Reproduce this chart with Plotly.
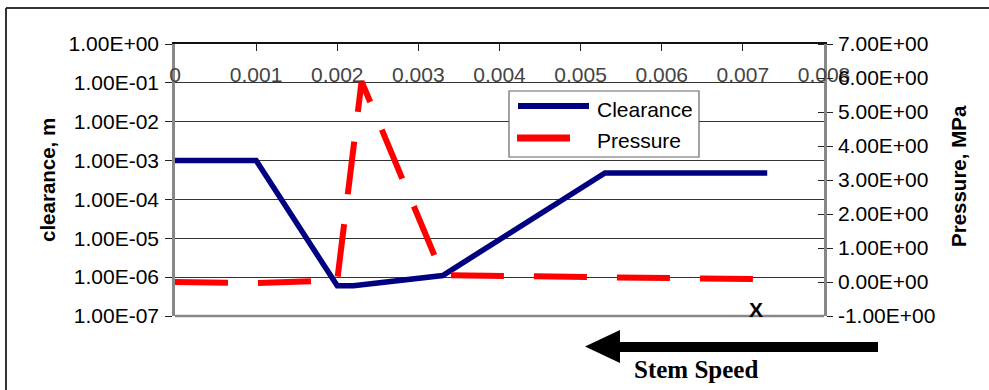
import plotly.graph_objects as go

# ---- data -------------------------------------------------------------
clear_x = [0.0, 0.001, 0.002, 0.0022, 0.0033, 0.0053, 0.0073]
clear_y = [1.0e-3, 1.0e-3, 6.0e-7, 6.0e-7, 1.1e-6, 4.8e-4, 4.8e-4]

press_x = [0.0, 0.001, 0.002, 0.0023, 0.0033, 0.0043, 0.0053, 0.0063, 0.0073]
press_y = [0.0, -0.03, 0.05, 5.9, 0.2, 0.16, 0.13, 0.10, 0.08]

x_ticks = [0, 0.001, 0.002, 0.003, 0.004, 0.005, 0.006, 0.007, 0.008]
x_tick_labels = ["0", "0.001", "0.002", "0.003", "0.004", "0.005", "0.006", "0.007", "0.008"]
left_ticks = [1e-7, 1e-6, 1e-5, 1e-4, 1e-3, 1e-2, 1e-1, 1e0]
right_ticks = [-1, 0, 1, 2, 3, 4, 5, 6, 7]

# ---- layout geometry (pixels) ----------------------------------------
W, H = 989, 390
L, R, T, B = 175, 824, 44, 316

def px(x):
    return (x - L) / (R - L)

def py(y):
    return (B - y) / (B - T)

FONT = "Liberation Sans, Arial, sans-serif"
NAVY = "#000080"
RED = "#FF0000"
FS = 21

fig = go.Figure()

fig.add_trace(go.Scatter(
    x=clear_x, y=clear_y, mode="lines", name="Clearance",
    line=dict(color=NAVY, width=5.5), showlegend=False,
))
fig.add_trace(go.Scatter(
    x=press_x, y=press_y, mode="lines", name="Pressure", yaxis="y2",
    line=dict(color=RED, width=6, dash="53px,30px"), showlegend=False,
))

fig.update_layout(
    width=W, height=H,
    margin=dict(l=L, r=W - R, t=T, b=H - B),
    paper_bgcolor="white", plot_bgcolor="white",
    font=dict(family=FONT, size=FS, color="black"),
    xaxis=dict(
        range=[0, 0.008], side="top", tickvals=x_ticks, ticktext=x_tick_labels,
        ticks="inside", ticklen=7, tickcolor="#222", tickwidth=1,
        ticklabelposition="inside", ticklabeloverflow="allow", ticklabelstandoff=18,
        showgrid=False, zeroline=False,
        showline=True, linecolor="#111", linewidth=1.5,
        tickfont=dict(size=FS),
    ),
    yaxis=dict(
        type="log", range=[-7, 0], tickvals=left_ticks,
        ticktext=[f"{v:.2E}" for v in left_ticks],
        ticks="outside", ticklen=7, tickcolor="#222", tickwidth=1,
        ticklabelstandoff=2,
        showgrid=True, gridcolor="#333", gridwidth=1,
        showline=True, linecolor="#888", linewidth=2.5,
        zeroline=False, tickfont=dict(size=FS),
    ),
    yaxis2=dict(
        overlaying="y", side="right", range=[-1, 7], tickvals=right_ticks,
        ticktext=[f"{v:.2E}" for v in right_ticks],
        ticks="outside", ticklen=6, tickcolor="#222", tickwidth=1,
        ticklabelstandoff=1,
        minor=dict(tickvals=right_ticks, ticks="inside", ticklen=6,
                   tickcolor="#222", tickwidth=1),
        showgrid=False, zeroline=False,
        showline=True, linecolor="#888", linewidth=2.5,
        tickfont=dict(size=FS),
    ),
)

shapes = []
# bottom edge of the plot area
shapes.append(dict(type="line", xref="paper", yref="paper", x0=0, x1=1, y0=0, y1=0,
                   line=dict(color="#888", width=2.5)))
# outer chart border (top and left edges)
shapes.append(dict(type="line", xref="paper", yref="paper", x0=px(6), x1=px(W + 5),
                   y0=py(8), y1=py(8), line=dict(color="#333", width=2)))
shapes.append(dict(type="line", xref="paper", yref="paper", x0=px(6), x1=px(6),
                   y0=py(8), y1=py(H + 5), line=dict(color="#333", width=2)))

# legend box and samples
shapes.append(dict(type="rect", xref="paper", yref="paper", x0=px(509), x1=px(699),
                   y0=py(157), y1=py(91), line=dict(color="#666", width=1.2),
                   fillcolor="white", layer="above"))
shapes.append(dict(type="line", xref="paper", yref="paper", x0=px(518), x1=px(589),
                   y0=py(106), y1=py(106), line=dict(color=NAVY, width=6), layer="above"))
shapes.append(dict(type="rect", xref="paper", yref="paper", x0=px(517), x1=px(570),
                   y0=py(141.5), y1=py(134.5), line=dict(width=0), fillcolor=RED,
                   layer="above"))

# stem speed arrow
shapes.append(dict(type="rect", xref="paper", yref="paper", x0=px(618), x1=px(878),
                   y0=py(352), y1=py(342), line=dict(width=0), fillcolor="black"))
shapes.append(dict(
    type="path", xref="paper", yref="paper",
    path=f"M {px(585)},{py(346.5)} L {px(620)},{py(330)} L {px(620)},{py(363)} Z",
    line=dict(width=0), fillcolor="black"))
fig.update_layout(shapes=shapes)


def label(text, x, y, size=FS, family=FONT, angle=0, xanchor="center"):
    return dict(text=text, x=px(x), y=py(y), xref="paper", yref="paper",
                xanchor=xanchor, yanchor="middle", textangle=angle,
                showarrow=False, font=dict(size=size, family=family))


annotations = [
    label("<b>clearance, m</b>", 47, 180, size=20.5, angle=-90),
    label("<b>Pressure, MPa</b>", 958, 176, size=20.5, angle=-90),
    label("Clearance", 595, 109, xanchor="left"),
    label("Pressure", 595, 140, xanchor="left"),
    label("<b>X</b>", 756, 309),
    label("<b>Stem Speed</b>", 696, 369, size=25,
          family="Liberation Serif, Times New Roman, serif"),
]
fig.update_layout(annotations=annotations)

fig.write_html("out.html")
